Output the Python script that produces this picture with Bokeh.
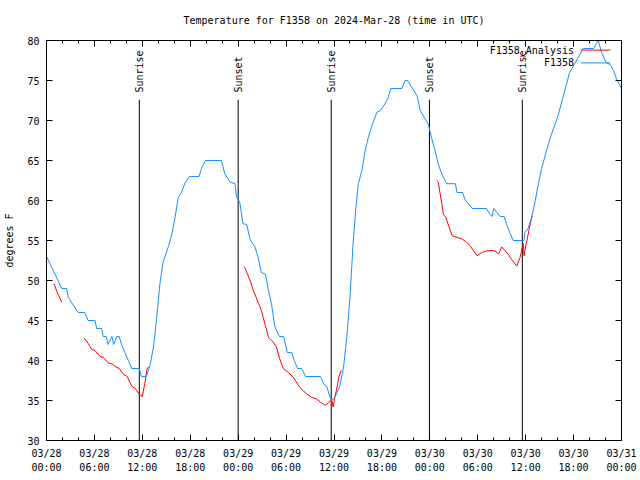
from bokeh.plotting import figure
from bokeh.models import Range1d, FixedTicker, LinearAxis
from bokeh.core.properties import value
from bokeh.embed import file_html
from bokeh.resources import INLINE
import math

# ---- data (hours since 2024-03-28 00:00 UTC, degrees F) ----
obs_hours = [0, 1.06, 1.9, 2.5, 2.73, 3.36, 3.98, 4.8, 5.2, 6.07, 6.28, 6.9, 7.1, 7.5, 7.7, 8.2, 8.4, 8.8,
             9.1, 9.4, 9.8, 10.25, 10.67, 11.6, 11.9, 12.5, 12.96, 13.4, 13.8, 14.2, 14.6, 15.25, 15.7, 16.1,
             16.5, 16.9, 17.3, 17.9, 19.1, 19.4, 19.9, 21.9, 22.35, 23.0, 23.6, 23.8, 24.2, 24.6, 25.07, 25.5,
             26.1, 26.5, 26.9, 27.4, 27.8, 28.2, 28.6, 29.15, 29.7, 30.15, 30.7, 31.0, 31.45, 31.95, 32.45,
             34.3, 34.75, 35.1, 35.5, 35.7, 36.1, 36.3, 36.75, 37.2, 37.6, 38.0, 38.4, 38.75, 39.05, 39.5,
             39.9, 40.3, 40.7, 41.35, 41.8, 42.4, 42.8, 43.1, 44.5, 44.9, 45.2, 45.7, 46.4, 46.8, 47.4, 47.8,
             48.2, 48.65, 49.1, 49.6, 50.1, 51.2, 51.4, 52.1, 52.4, 53.0, 53.3, 55.1, 55.5, 55.8, 56.0, 56.4,
             56.8, 57.3, 57.6, 58.0, 58.45, 59.8, 59.9, 60.3, 60.75, 61.2, 61.6, 62.0, 62.55, 63.05, 64.05,
             64.9, 65.5, 66.2, 67.2, 68.5, 69.1, 69.5, 70.1, 70.6, 71.0, 71.4, 72.0]
obs_temps = [53, 50.8, 49, 49, 47.9, 46.9, 46, 46, 45, 45, 44, 44, 43, 43, 42, 43, 42, 43,
             43, 42, 41, 40, 39, 39, 38, 38, 39.4, 41.7, 45.4, 49.6, 52.3, 54.2, 55.8, 57.9,
             60.4, 61, 62.1, 63, 63, 64, 65, 65, 63.3, 62.3, 62.1, 60.4, 59.8, 57.1, 57, 55.1,
             54.2, 52.9, 51, 50.8, 48.75, 46.9, 44.2, 43, 43, 41, 41, 40, 39, 39, 38,
             38, 37, 36.75, 35.4, 35, 35.4, 35.8, 36.9, 39.2, 42.9, 47.9, 54.8, 59.2, 62.1, 63.75,
             66.25, 67.9, 69.2, 71, 71.25, 72.1, 72.9, 74, 74, 75, 75, 74.2, 73.1, 71.25, 70.2, 69.6,
             67.9, 66.25, 64.4, 63.1, 62.1, 62.1, 61, 61, 60.1, 59.4, 59, 59, 58.3, 58, 59, 58.5,
             58, 58, 57.1, 56, 55, 55, 56, 56.5, 57.9, 60, 62.1, 64, 66, 67.75, 70.6,
             73.75, 76, 77.2, 79, 79, 80, 78.5, 77.2, 77, 76.25, 75.1, 74]

ana1_hours = [0.94, 1.35, 1.9]
ana1_temps = [49.6, 48.5, 47.3]
ana2_hours = [4.73, 5.24, 5.65, 6.07, 6.7, 7.1, 7.74, 8.16, 8.7, 9.1, 9.6, 10.1, 10.67, 11.2, 11.6, 12.0,
              12.3, 12.6, 12.96]
ana2_temps = [42.8, 42.1, 41.4, 41.25, 40.5, 40.4, 39.7, 39.6, 39.2, 39, 38.3, 38, 36.8, 36.4, 35.8, 35.5,
              37.1, 39.0, 39.3]
ana3_hours = [24.77, 25.5, 25.9, 26.5, 26.9, 27.4, 27.8, 28.4, 28.8, 29.2, 29.65, 30.3, 30.9, 31.75, 32.6,
              33.2, 33.8, 34.3, 34.9, 35.3, 35.7, 35.9, 36.1, 36.3, 36.6, 36.9]
ana3_temps = [51.75, 50, 48.75, 47.3, 46.25, 44.4, 42.9, 42.3, 41.7, 40.2, 39.0, 38.5, 37.9, 36.6, 35.8,
              35.4, 35.2, 34.8, 34.4, 34.7, 35.1, 34.2, 35.4, 36.25, 37.9, 38.8]
ana4_hours = [48.86, 49.05, 49.3, 49.5, 49.7, 50.0, 50.4, 50.8, 51.4, 52.0, 52.6, 53.0, 53.45, 53.9, 54.5,
              55.1, 55.75, 56.15, 56.6, 57.0, 57.4, 57.8, 58.25, 58.9, 59.3, 59.6, 59.7, 59.8, 60.05, 60.2,
              60.45, 60.67, 60.8]
ana4_temps = [62.5, 62.3, 60.8, 59.6, 58.25, 57.9, 56.7, 55.6, 55.4, 55.2, 54.8, 54.4, 53.75, 53.1, 53.5,
              53.7, 53.75, 53.7, 53.3, 54.2, 53.75, 53.3, 52.6, 51.8, 52.9, 54.2, 54.6, 53.1, 54.6, 55.2,
              56.5, 57.5, 58.1]

sun_hours = [11.62, 24.0, 35.65, 47.95, 59.58]
sun_names = ["Sunrise", "Sunset", "Sunrise", "Sunset", "Sunrise"]

x_ticks = [0, 6, 12, 18, 24, 30, 36, 42, 48, 54, 60, 66, 72]
x_tick_labels = ["03/28\n00:00", "03/28\n06:00", "03/28\n12:00", "03/28\n18:00",
                 "03/29\n00:00", "03/29\n06:00", "03/29\n12:00", "03/29\n18:00",
                 "03/30\n00:00", "03/30\n06:00", "03/30\n12:00", "03/30\n18:00", "03/31\n00:00"]
x_minor = [h for h in range(0, 73, 2) if h % 6 != 0]
y_ticks = [30, 35, 40, 45, 50, 55, 60, 65, 70, 75, 80]

# ---- styling / layout constants ----
FONT = "DejaVu Sans Mono"
FS = "10px"
BLUE = "#1a8cff"
RED = "#ff0000"
SUN_LINE_TOP = 72.6
SUN_TEXT_BOTTOM = 73.5
LEG_TEXT_X = 66.05
LEG_LINE_X0, LEG_LINE_X1 = 66.9, 70.6
LEG_Y = [78.8, 77.2]

p = figure(width=640, height=480, output_backend="svg", toolbar_location=None,
           x_range=Range1d(0, 72), y_range=Range1d(30, 80),
           min_border_left=46, min_border_right=19, min_border_top=40, min_border_bottom=40,
           title="Temperature for F1358 on 2024-Mar-28 (time in UTC)")
p.title.align = "center"
p.title.vertical_align = "top"
p.title.text_font = FONT
p.title.text_font_size = FS
p.title.text_font_style = "normal"
p.title.text_color = "black"
p.title.standoff = 26
p.outline_line_color = "black"
p.outline_line_width = 1
p.grid.visible = False
p.background_fill_color = "white"
p.border_fill_color = "white"

xt = FixedTicker(ticks=x_ticks, minor_ticks=x_minor)
yt = FixedTicker(ticks=y_ticks, minor_ticks=[])

def style_axis(ax):
    ax.axis_line_color = "black"
    ax.major_tick_in = 6
    ax.major_tick_out = 0
    ax.minor_tick_in = 3
    ax.minor_tick_out = 0
    ax.major_tick_line_color = "black"
    ax.minor_tick_line_color = "black"
    ax.major_label_text_font = FONT
    ax.major_label_text_font_size = FS
    ax.major_label_text_color = "black"

xa = p.xaxis[0]
xa.ticker = xt
xa.major_label_overrides = {t: l for t, l in zip(x_ticks, x_tick_labels)}
style_axis(xa)
xa.major_label_standoff = 7
xa.major_label_text_line_height = 1.35

ya = p.yaxis[0]
ya.ticker = yt
style_axis(ya)
ya.major_label_standoff = 7
ya.axis_label = "degrees F"
ya.axis_label_text_font = FONT
ya.axis_label_text_font_size = FS
ya.axis_label_text_font_style = "normal"
ya.axis_label_text_color = "black"
ya.axis_label_standoff = 9

top = LinearAxis(ticker=xt)
style_axis(top)
top.major_label_overrides = {t: "" for t in x_ticks}
top.major_label_standoff = 0
p.add_layout(top, "above")
right = LinearAxis(ticker=yt)
style_axis(right)
right.major_label_overrides = {t: "" for t in y_ticks}
right.major_label_standoff = 0
p.add_layout(right, "right")

# sunrise / sunset markers
p.segment(x0=sun_hours, y0=[30] * len(sun_hours), x1=sun_hours, y1=[SUN_LINE_TOP] * len(sun_hours),
          line_color="black", line_width=1)
p.text(x=sun_hours, y=[SUN_TEXT_BOTTOM] * len(sun_hours), text=sun_names, angle=math.pi / 2,
       text_align="left", text_baseline="middle", text_font=value(FONT), text_font_size=FS,
       text_color="black")

# data
for hx, ty in [(ana1_hours, ana1_temps), (ana2_hours, ana2_temps), (ana3_hours, ana3_temps),
               (ana4_hours, ana4_temps)]:
    p.line(hx, ty, line_color=RED, line_width=1)
p.line(obs_hours, obs_temps, line_color=BLUE, line_width=1)

# legend (gnuplot style: label left, sample right)
p.text(x=[LEG_TEXT_X, LEG_TEXT_X], y=LEG_Y, text=["F1358_Analysis", "F1358"],
       text_align="right", text_baseline="middle", text_font=value(FONT), text_font_size=FS,
       text_color="black")
p.segment(x0=[LEG_LINE_X0, LEG_LINE_X0], y0=LEG_Y, x1=[LEG_LINE_X1, LEG_LINE_X1], y1=LEG_Y,
          line_color=[RED, BLUE], line_width=1)

open("out.html", "w").write(file_html(p, INLINE))
